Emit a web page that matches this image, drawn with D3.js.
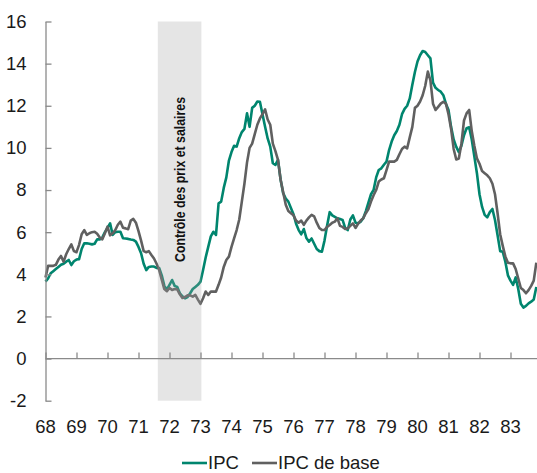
<!DOCTYPE html>
<html>
<head>
<meta charset="utf-8">
<script src="https://cdn.jsdelivr.net/npm/d3@7"></script>
<style>
  body { margin: 0; background: #fff; }
  text { font-family: "Liberation Sans Narrow", "Arial Narrow", "Liberation Sans", Arial, sans-serif; }
</style>
</head>
<body>
<div id="chart"></div>
<script>
// 1. SETUP
const width = 537;
const height = 473;

// --- DATA (monthly, year-over-year %, from Jan 1968) ---
const startYear = 68;
const yearLabels = ["68", "69", "70", "71", "72", "73", "74", "75", "76", "77", "78", "79", "80", "81", "82", "83"];
const yTicks = [-2, 0, 2, 4, 6, 8, 10, 12, 14, 16];
const seriesNames = ["IPC", "IPC de base"];

const ipc = [
  3.65, 3.8, 4.05, 4.15, 4.25, 4.35, 4.45, 4.5, 4.6, 4.68, 4.44, 4.62,      // 68
  4.7, 4.72, 5.2, 5.47, 5.47, 5.45, 5.42, 5.45, 5.66, 5.66, 5.75, 6.0,       // 69
  6.2, 6.42, 5.87, 6.0, 6.02, 6.02, 5.71, 5.7, 5.68, 5.65, 5.63, 5.55,       // 70
  5.3, 5.0, 4.5, 4.2, 4.35, 4.37, 4.37, 4.3, 4.3, 3.95, 3.45, 3.28,          // 71
  3.5, 3.73, 3.45, 3.4, 3.1, 2.95, 2.86, 2.92, 3.1, 3.3, 3.4, 3.5,           // 72
  3.65, 4.2, 4.8, 5.3, 5.8, 6.02, 5.87, 7.37, 7.45, 8.1, 8.6, 9.4,           // 73
  9.8, 10.1, 10.06, 10.46, 10.75, 10.9, 11.64, 11.0, 11.9, 12.0, 12.2, 12.19, // 74
  11.6, 11.0, 10.45, 10.06, 9.27, 9.19, 9.43, 8.5, 7.85, 7.6, 7.45, 7.15,    // 75
  6.85, 6.4, 6.1, 5.9, 6.15, 5.72, 5.55, 5.7, 5.45, 5.2, 5.1, 5.07,          // 76
  5.6, 6.3, 6.95, 6.8, 6.73, 6.66, 6.62, 6.58, 6.2, 6.1, 6.6, 6.8,           // 77
  6.45, 6.42, 6.5, 6.66, 7.0, 7.4, 7.8, 8.0, 8.6, 8.95, 9.03, 9.2,           // 78
  9.35, 9.9, 10.3, 10.6, 10.8, 11.1, 11.6, 11.85, 12.0, 12.35, 13.0, 13.6,   // 79
  14.1, 14.4, 14.6, 14.55, 14.4, 14.25, 13.1, 12.85, 12.75, 12.67, 12.5, 12.1, // 80
  11.8, 11.0, 10.4, 10.05, 9.8, 10.1, 10.6, 10.93, 10.98, 10.4, 9.6, 8.8,    // 81
  7.8, 7.2, 6.82, 6.7, 6.95, 7.1, 6.58, 5.85, 5.1, 5.07, 4.6, 3.95,          // 82
  3.7, 3.5, 3.85, 3.3, 2.6, 2.42, 2.5, 2.62, 2.7, 2.8, 3.4                   // 83
];

const ipcBase = [
  3.85, 4.4, 4.4, 4.4, 4.45, 4.7, 4.87, 4.6, 4.95, 5.2, 5.42, 5.1,           // 68
  5.05, 5.4, 5.9, 6.1, 5.87, 5.95, 6.0, 6.02, 5.92, 5.75, 5.66, 5.95,        // 69
  6.26, 5.85, 5.95, 6.1, 6.35, 6.5, 6.21, 6.18, 6.14, 6.55, 6.63, 6.45,      // 70
  6.05, 5.6, 5.1, 5.05, 5.1, 4.92, 4.75, 4.5, 4.2, 3.75, 3.3, 3.2,           // 71
  3.35, 3.26, 3.3, 3.28, 3.05, 2.88, 2.92, 3.0, 3.0, 2.94, 3.02, 2.8,        // 72
  2.6, 2.86, 3.18, 3.02, 3.18, 3.18, 3.18, 3.5, 3.85, 4.35, 4.68, 4.84,      // 73
  5.3, 5.7, 6.1, 6.6, 7.45, 8.3, 9.3, 10.0, 10.2, 10.65, 11.1, 11.4,         // 74
  11.6, 11.83, 11.35, 11.1, 10.2, 9.85, 9.43, 8.5, 7.9, 7.3, 7.0, 6.9,       // 75
  6.8, 6.55, 6.45, 6.55, 6.35, 6.55, 6.7, 6.82, 6.75, 6.45, 6.2, 6.1,        // 76
  6.1, 6.25, 6.34, 6.45, 6.5, 6.66, 6.3, 6.25, 6.15, 6.18, 6.3, 6.42,        // 77
  6.2, 6.4, 6.55, 6.66, 6.9, 7.1, 7.45, 7.75, 8.0, 8.4, 8.5, 8.56,           // 78
  8.95, 9.35, 9.35, 9.35, 9.43, 9.7, 9.95, 10.06, 9.98, 10.5, 11.0, 11.9,    // 79
  12.0, 12.2, 12.5, 12.95, 13.62, 13.2, 12.1, 11.8, 11.95, 12.1, 12.19, 12.1, // 80
  11.6, 10.9, 9.95, 9.45, 9.5, 10.2, 11.3, 11.64, 11.8, 10.8, 10.1, 9.5,     // 81
  9.25, 8.9, 8.8, 8.7, 8.56, 8.3, 7.8, 6.9, 5.9, 5.35, 4.85, 4.55,           // 82
  4.52, 4.52, 4.25, 3.8, 3.35, 3.25, 3.1, 3.25, 3.45, 3.7, 4.55              // 83
];

// wage & price controls: 15 Aug 1971 -> 11 Jan 1973
const controlPeriod = [71 + 7.47 / 12, 73 + 0.35 / 12];
const controlLabel = "Contrôle des prix et salaires";

const colors = { ipc: "#00856e", base: "#606060", axis: "#8a8a8a", text: "#1a1a1a" };

const svg = d3.select("#chart")
  .append("svg")
  .attr("width", width)
  .attr("height", height)
  .attr("viewBox", [0, 0, width, height]);

// --- SCALES ---
const x = d3.scaleLinear()
  .domain([68, 84])
  .range([45.5, 45.5 + 16 * 31]);

const y = d3.scaleLinear()
  .domain([-2, 16])
  .range([400.7, 21.5]);

const toPoints = arr => arr.map((v, i) => ({ t: startYear + i / 12, v }));

const line = d3.line()
  .x(d => x(d.t))
  .y(d => y(d.v));

// --- LINES ---
svg.append("path")
  .datum(toPoints(ipc))
  .attr("fill", "none")
  .attr("stroke", colors.ipc)
  .attr("stroke-width", 2.6)
  .attr("stroke-linejoin", "round")
  .attr("d", line);

svg.append("path")
  .datum(toPoints(ipcBase))
  .attr("fill", "none")
  .attr("stroke", colors.base)
  .attr("stroke-width", 2.6)
  .attr("stroke-linejoin", "round")
  .attr("d", line);

// --- SHADED PERIOD (drawn over the lines, translucent) ---
svg.append("rect")
  .attr("x", x(controlPeriod[0]))
  .attr("width", x(controlPeriod[1]) - x(controlPeriod[0]))
  .attr("y", y(16))
  .attr("height", y(-2) - y(16))
  .attr("fill", "#a0a0a0")
  .attr("opacity", 0.28);

const midX = (x(controlPeriod[0]) + x(controlPeriod[1])) / 2;
svg.append("text")
  .attr("transform", `translate(${midX + 5.5}, 179.5) rotate(-90)`)
  .attr("text-anchor", "middle")
  .attr("font-size", "14px")
  .attr("font-weight", "bold")
  .attr("fill", "#111")
  .attr("textLength", 165)
  .attr("lengthAdjust", "spacingAndGlyphs")
  .text(controlLabel);

// --- AXES ---
// Y axis: ticks point inward, labels on the left
svg.append("g")
  .attr("transform", `translate(${x(68)}, 0)`)
  .call(d3.axisLeft(y)
    .tickValues(yTicks)
    .tickSizeInner(-6)
    .tickSizeOuter(0)
    .tickPadding(19)
    .tickFormat(d => String(d)))
  .call(g => g.selectAll("line, path").attr("stroke", colors.axis).attr("stroke-width", 1.3))
  .call(g => g.selectAll("text").attr("font-size", "18.5px").attr("fill", colors.text).attr("font-family", null));

// Zero line with year ticks pointing up
svg.append("g")
  .attr("transform", `translate(0, ${y(0)})`)
  .call(d3.axisTop(x)
    .tickValues(yearLabels.map(Number))
    .tickSizeInner(6)
    .tickSizeOuter(0)
    .tickFormat(""))
  .call(g => g.select(".domain").remove())
  .call(g => g.selectAll("line").attr("stroke", colors.axis).attr("stroke-width", 1.3));

svg.append("line")
  .attr("x1", x(68)).attr("x2", width)
  .attr("y1", y(0)).attr("y2", y(0))
  .attr("stroke", colors.axis)
  .attr("stroke-width", 1.3);

// Year labels at the bottom
svg.append("g")
  .selectAll("text")
  .data(yearLabels)
  .join("text")
  .attr("x", d => x(+d))
  .attr("y", 427)
  .attr("dy", "0.35em")
  .attr("text-anchor", "middle")
  .attr("font-size", "18.5px")
  .attr("fill", colors.text)
  .text(d => d);

// --- LEGEND ---
const legendX = [182, 252];
const legendColors = [colors.ipc, colors.base];
const legend = svg.append("g")
  .selectAll("g")
  .data(seriesNames)
  .join("g")
  .attr("transform", (d, i) => `translate(${legendX[i]}, 463)`);

legend.append("line")
  .attr("x1", 0).attr("x2", 25)
  .attr("stroke", (d, i) => legendColors[i])
  .attr("stroke-width", 2.6);

legend.append("text")
  .attr("x", 26)
  .attr("dy", "0.33em")
  .attr("font-size", "18.5px")
  .attr("fill", colors.text)
  .text(d => d);
</script>
</body>
</html>
